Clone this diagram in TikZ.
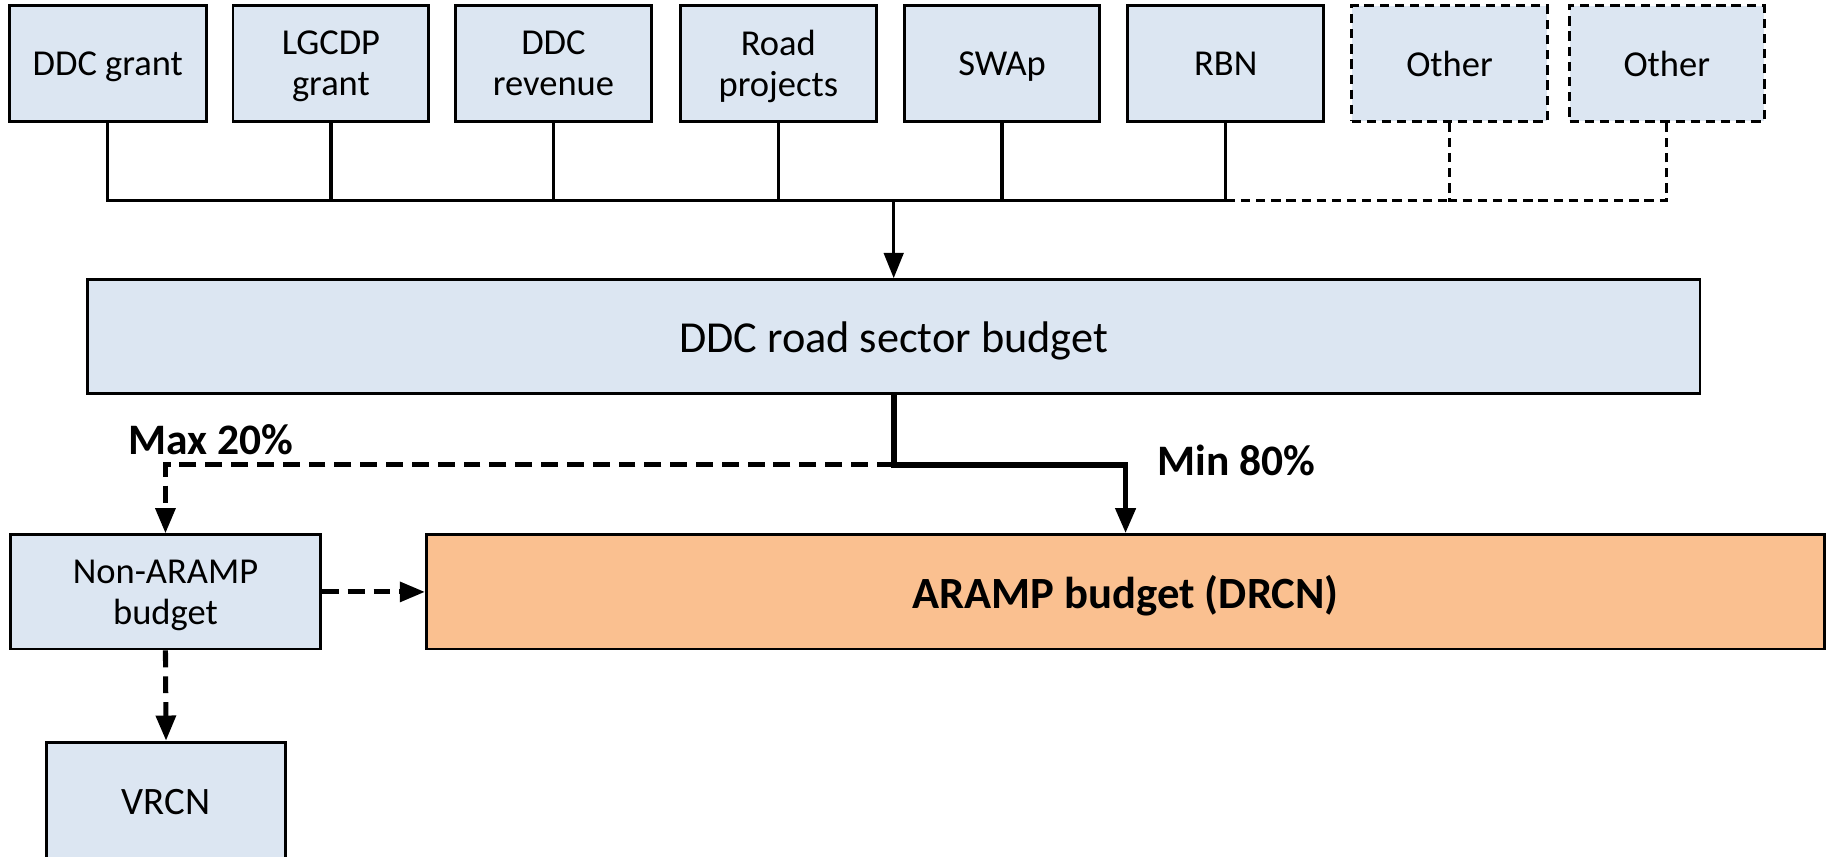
\documentclass[tikz,border=0pt]{standalone}
\usepackage{fontspec}
\setmainfont{Carlito}
\usetikzlibrary{arrows.meta}
\definecolor{boxblue}{HTML}{DCE6F2}
\definecolor{boxorange}{HTML}{FAC090}
\tikzset{
  box/.style={draw=black, line width=1.5pt, fill=boxblue, inner sep=0pt, align=center,
    text depth=0pt, font=\fontsize{18.8}{21}\selectfont},
  wh/.style 2 args={minimum width=#1*0.6pt, minimum height=#2*0.6pt},
  dashbox/.style={box, dash pattern=on 4.8pt off 3pt},
  conn/.style={draw=black, line width=1.7pt},
  dconn/.style={draw=black, line width=1.7pt, dash pattern=on 4.8pt off 3pt},
  flow/.style={draw=black, line width=2.6pt, dash pattern=on 8.7pt off 4.6pt,
    -{Triangle[length=13pt,width=10pt]}},
  mainflow/.style={draw=black, line width=3pt, -{Triangle[length=13pt,width=10pt]}},
  pct/.style={font=\fontsize{22.4}{24}\selectfont\bfseries, inner sep=0pt}
}
\begin{document}
\begin{tikzpicture}[x=0.6pt, y=-0.6pt]
\useasboundingbox (0,0) rectangle (1568,735);
\begin{scope}
\clip (0,0) rectangle (1568,735);
% top sources
\node[box, wh={169}{99}] (g1) at (92.5,54.5) {DDC grant};
\node[box, wh={168}{99}] (g2) at (284,54.5) {LGCDP\\grant};
\node[box, wh={168}{99}] (g3) at (475,54.5) {DDC\\revenue};
\node[box, wh={168}{99}] (g4) at (668,54.5) {Road\\projects};
\node[box, wh={168}{99}] (g5) at (860,54.5) {SWAp};
\node[box, wh={168}{99}] (g6) at (1052,54.5) {RBN};
\node[dashbox, wh={168}{99}] (g7) at (1244,54.5) {Other};
\node[dashbox, wh={167}{99}] (g8) at (1430.5,54.5) {Other};
% budgets
\node[box, wh={1384}{98}, font=\fontsize{22.8}{25}\selectfont] (road) at (767,289) {DDC road sector budget};
\node[box, wh={266}{98}] (non) at (142,508) {Non-ARAMP\\budget};
\node[box, fill=boxorange, wh={1200}{98}, font=\fontsize{23}{25}\selectfont\bfseries] (aramp) at (966,508) {ARAMP budget (DRCN)};
\node[box, wh={205}{103}, font=\fontsize{20}{22}\selectfont] (vrcn) at (142.5,688.5) {VRCN};
\end{scope}
\coordinate (bus) at (767,172);
\coordinate (split) at (767,399);
% bus connectors
\draw[conn] (g1.south) |- (g6.south |- bus) -- (g6.south);
\foreach \n in {g2,g3,g4,g5} \draw[conn] (\n.south) -- (\n.south |- bus);
\draw[dconn] (g6.south |- bus) -- (g7.south |- bus);
\draw[dconn] (g7.south) |- (g8.south |- bus) -- (g8.south);
\draw[conn, -{Triangle[length=13pt,width=10pt]}] (bus) -- (road.north);
% split
\draw[mainflow] (road.south) -- (split) -| (aramp.north);
\draw[flow] (split) -| (non.north);
\draw[flow] (non.east) -- (aramp.west);
\draw[flow] (non.south) -- (vrcn.north);
% labels
\node[pct] (max) at (181,377) {Max 20\%};
\node[pct] (min) at (1061,395) {Min 80\%};
\end{tikzpicture}
\end{document}
